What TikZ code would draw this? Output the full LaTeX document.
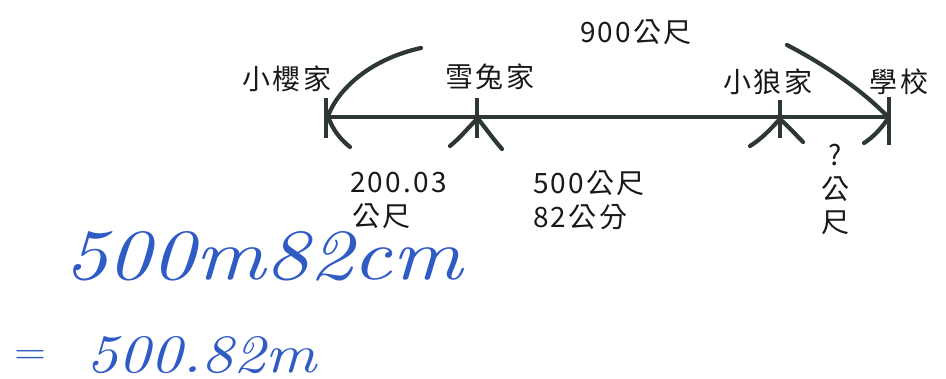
\documentclass[tikz,border=0pt]{standalone}
\usepackage{fontspec}
\newfontfamily\cjk[LetterSpace=8]{Noto Sans CJK TC}
\definecolor{inkline}{HTML}{2E3833}
\definecolor{pen}{HTML}{2F5BC4}
\tikzset{
  axisline/.style={draw=inkline, line width=3.6pt},
  tickline/.style={draw=inkline, line width=4.6pt},
  braceline/.style={draw=inkline, line width=4.2pt, line cap=round},
  lbl/.style={font=\cjk\fontsize{28}{30}\selectfont, inner sep=0pt, text=black!90},
  hand/.style={text=pen, inner sep=0pt}
}
\begin{document}
\begin{tikzpicture}[x=1pt,y=-1pt]
\useasboundingbox (0,0) rectangle (946,379);
% stations on the line
\coordinate (A) at (326,117);
\coordinate (B) at (477,117);
\coordinate (C) at (780,117);
\coordinate (D) at (889,117);
% main line
\draw[axisline] (A) -- (D);
% ticks
\draw[tickline] ([yshift=19pt]A) -- ([yshift=-21pt]A);
\draw[tickline] ([yshift=19pt]B) -- ([yshift=-21pt]B);
\draw[tickline] ([yshift=17pt]C) -- ([yshift=-21pt]C);
\draw[tickline] ([yshift=20pt]D) -- ([yshift=-28pt]D);
% top brace ends
\coordinate (T1) at (421,48);
\coordinate (T2) at (787,45);
\draw[braceline] ([xshift=2pt,yshift=1pt]A) .. controls (340,85) and (375,58) .. (T1);
\draw[braceline] ([xshift=-2pt,yshift=1pt]D) .. controls (860,88) and (820,62) .. (T2);
% lower brace ends
\coordinate (L1) at (350,147);
\coordinate (L2) at (450,146);
\coordinate (L3) at (502,149);
\coordinate (L4) at (750,146);
\coordinate (L5) at (803,142);
\coordinate (L6) at (864,143);
\draw[braceline] ([xshift=3pt,yshift=-2pt]A) .. controls (333,130) and (341,140) .. (L1);
\draw[braceline] ([xshift=-1pt,yshift=-3pt]B) .. controls (468,128) and (460,138) .. (L2);
\draw[braceline] ([xshift=2pt,yshift=-3pt]B) .. controls (487,130) and (494,140) .. (L3);
\draw[braceline] ([xshift=-2pt,yshift=-4pt]C) .. controls (770,130) and (760,140) .. (L4);
\draw[braceline] ([xshift=2pt,yshift=-4pt]C) .. controls (790,128) and (797,136) .. (L5);
\draw[braceline] ([xshift=-2pt,yshift=-3pt]D) .. controls (880,130) and (872,138) .. (L6);
% place names
\node[lbl] (n1) at (287,79) {小櫻家};
\node[lbl] (n2) at (490,77) {雪兔家};
\node[lbl] (n3) at (768,82) {小狼家};
\node[lbl] (n4) at (899,82) {學校};
\node[lbl] (n5) at (636,32) {900公尺};
% distances
\node[lbl, anchor=west] (d1) at (350,183) {200.03};
\node[lbl, anchor=west] (d2) at (352,216) {公尺};
\node[lbl, anchor=west] (d3) at (533,183) {500公尺};
\node[lbl, anchor=west] (d4) at (533,217) {82公分};
\node[lbl] (q1) at (835,155) {?};
\node[lbl] (q2) at (835,189) {公};
\node[lbl] (q3) at (835,223) {尺};
% handwriting
\node[hand, anchor=south west] (h1) at (64,281) {\resizebox{398pt}{48pt}{\itshape 500m82cm}};
\node[hand, anchor=south west] (h2) at (14,364) {\resizebox{32pt}{13pt}{=}};
\node[hand, anchor=south west] (h3) at (86,374) {\resizebox{230pt}{36pt}{\itshape 500.82m}};
\end{tikzpicture}
\end{document}
